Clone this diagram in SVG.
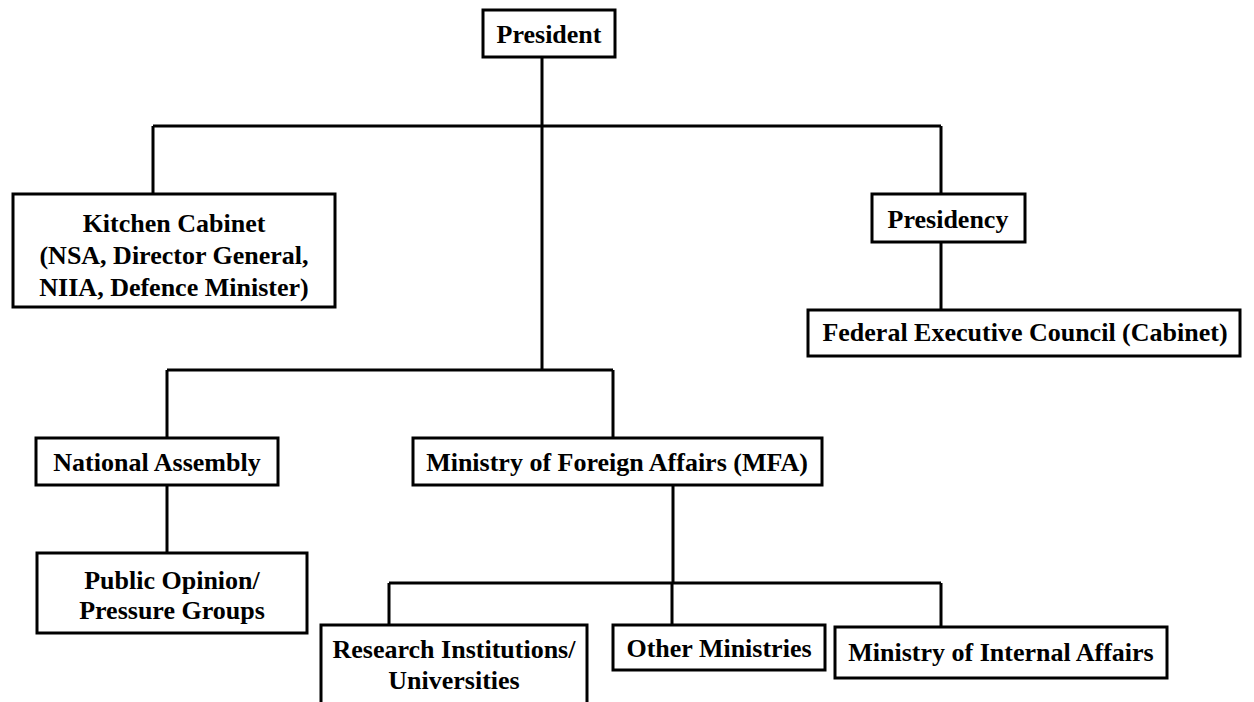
<svg xmlns="http://www.w3.org/2000/svg" width="1254" height="702" viewBox="0 0 1254 702">
<style>
.box{fill:#fff;stroke:#000;stroke-width:3}
.ln{stroke:#000;stroke-width:3;fill:none}
.t{font-family:'Liberation Serif','Times New Roman',Times,serif;font-weight:700;font-size:26px;fill:#000;text-anchor:middle}
</style>
<rect width="1254" height="702" fill="#fff"/>
<g id="connectors">
<path class="ln" d="M542 57V126M153 126H941M153 126V194M941 126V194M941 242V310"/>
<path class="ln" d="M542 126V370M167 370H613M167 370V438M613 370V438M167 485V553"/>
<path class="ln" d="M673 485V583M389 583H941M389 583V625M672 583V625M941 583V627"/>
</g>
<g class="t">
<g id="president"><rect class="box" x="483" y="10" width="132" height="47"/><text x="549" y="43">President</text></g>
<g id="kitchen"><rect class="box" x="13" y="194" width="322" height="113"/><text x="174" y="232">Kitchen Cabinet</text><text x="174" y="264">(NSA, Director General,</text><text x="174" y="296">NIIA, Defence Minister)</text></g>
<g id="presidency"><rect class="box" x="872" y="194" width="153" height="48"/><text x="948" y="228">Presidency</text></g>
<g id="fec"><rect class="box" x="808" y="310" width="432" height="46"/><text x="1025" y="341">Federal Executive Council (Cabinet)</text></g>
<g id="national"><rect class="box" x="36" y="438" width="242" height="47"/><text x="157" y="471">National Assembly</text></g>
<g id="mfa"><rect class="box" x="413" y="438" width="409" height="47"/><text x="617" y="471">Ministry of Foreign Affairs (MFA)</text></g>
<g id="public"><rect class="box" x="37" y="553" width="270" height="80"/><text x="172" y="589">Public Opinion/</text><text x="172" y="619">Pressure Groups</text></g>
<g id="research"><rect class="box" x="321" y="625" width="266" height="90"/><text x="454" y="658">Research Institutions/</text><text x="454" y="689">Universities</text></g>
<g id="other"><rect class="box" x="613" y="625" width="212" height="45"/><text x="719" y="657">Other Ministries</text></g>
<g id="internal"><rect class="box" x="835" y="627" width="332" height="51"/><text x="1001" y="661">Ministry of Internal Affairs</text></g>
</g>
</svg>
